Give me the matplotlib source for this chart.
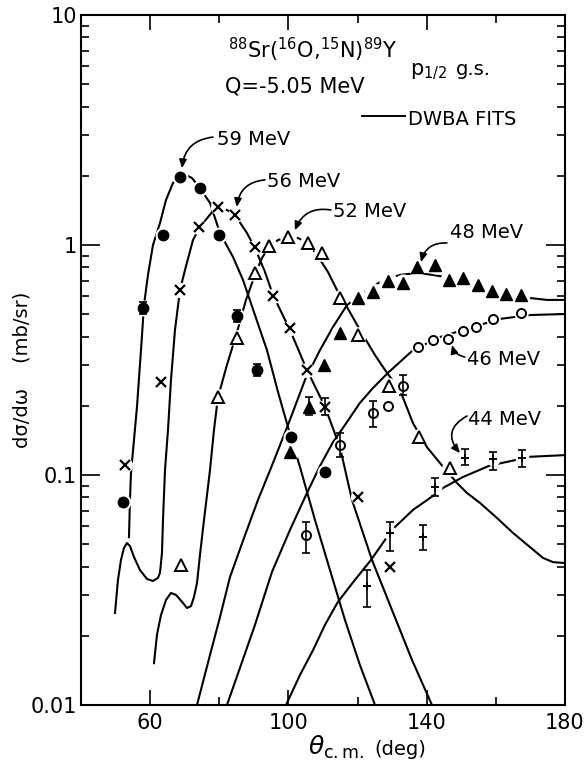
import numpy as np
import matplotlib.pyplot as plt

plt.rcParams['font.family'] = ['DejaVu Sans']
plt.rcParams['mathtext.fontset'] = 'dejavusans'

# measured points, theta_cm (deg) and dsigma/domega (mb/sr)
x59 = [52.1, 57.9, 63.7, 68.6, 74.4, 79.9, 85.1, 90.9, 100.7, 110.6]
y59 = [0.076, 0.53, 1.1, 1.98, 1.77, 1.1, 0.49, 0.286, 0.146, 0.103]
x56 = [52.7, 63.1, 68.6, 74.1, 79.6, 84.5, 90.3, 95.5, 100.5, 105.4, 110.6, 120.1, 129.4]
y56 = [0.11, 0.254, 0.64, 1.2, 1.46, 1.35, 0.98, 0.60, 0.436, 0.286, 0.198, 0.080, 0.040]
x52 = [68.9, 79.6, 85.1, 90.3, 94.4, 99.9, 105.7, 109.7, 114.9, 120.1, 129.1, 137.8, 146.7]
y52 = [0.0406, 0.218, 0.394, 0.755, 0.99, 1.08, 1.02, 0.92, 0.59, 0.406, 0.244, 0.146, 0.107]
x48 = [100.5, 106.0, 110.4, 114.9, 120.1, 124.5, 128.8, 133.1, 137.2, 142.4, 146.5, 150.5,
       154.8, 158.9, 162.9, 167.3]
y48 = [0.126, 0.198, 0.30, 0.414, 0.589, 0.625, 0.70, 0.684, 0.80, 0.818, 0.705, 0.719,
       0.67, 0.63, 0.612, 0.606]
x46 = [105.1, 114.9, 124.5, 128.8, 133.1, 137.5, 141.8, 146.2, 150.5, 154.3, 159.2, 167.3]
y46 = [0.0548, 0.135, 0.186, 0.20, 0.244, 0.36, 0.386, 0.39, 0.423, 0.44, 0.477, 0.506]
x44 = [122.7, 129.4, 138.9, 142.4, 151.1, 159.2, 167.6]
y44 = [0.033, 0.056, 0.054, 0.0887, 0.1186, 0.117, 0.1186]

# error bars (angle, low, high)
bar_x = [52.1, 57.9, 85.1, 90.9, 110.6, 106.0, 105.1, 114.9, 124.5, 133.1,
         122.7, 129.4, 138.9, 142.4, 151.1, 159.2, 167.6]
bar_lo = [0.073, 0.50, 0.461, 0.269, 0.182, 0.182, 0.0458, 0.12, 0.162, 0.223,
          0.0267, 0.0467, 0.0472, 0.081, 0.110, 0.105, 0.108]
bar_hi = [0.079, 0.563, 0.52, 0.304, 0.216, 0.218, 0.0625, 0.152, 0.21, 0.272,
          0.0386, 0.0625, 0.0606, 0.097, 0.130, 0.126, 0.128]

# DWBA fits
c59_x = [53.88, 54.17, 54.46, 55.33, 56.20, 57.56, 58.22, 59.38, 60.83, 62.85, 64.59, 66.61,
         68.64, 70.37, 72.11, 74.42, 77.32, 80.21, 83.97, 86.86, 90.33, 93.80, 96.99, 99.88,
         103.35, 107.69, 112.03, 116.37, 120.70, 125.05]
c59_y = [0.0537, 0.0779, 0.102, 0.142, 0.198, 0.386, 0.548, 0.741, 1.0, 1.246, 1.570, 1.860,
         1.975, 2.015, 1.955, 1.769, 1.523, 1.127, 0.887, 0.705, 0.496, 0.349, 0.2296, 0.1617,
         0.1083, 0.0637, 0.0386, 0.0234, 0.0149, 0.01]
c56_x = [49.84, 50.70, 51.57, 52.44, 53.31, 54.17, 55.33, 57.07, 59.09, 60.83, 62.27, 62.85,
         63.43, 63.72, 64.30, 65.17, 66.03, 67.19, 68.64, 70.08, 72.40, 74.42, 79.34, 82.23,
         84.55, 88.02, 90.33, 93.23, 95.54, 100.46, 105.37, 110.58, 114.92, 118.39, 124.18,
         129.96, 135.75, 141.53]
c56_y = [0.0251, 0.0350, 0.0427, 0.0482, 0.0506, 0.0491, 0.0440, 0.0386, 0.0353, 0.0346,
         0.0357, 0.0375, 0.0458, 0.0637, 0.105, 0.157, 0.259, 0.427, 0.637, 0.778, 1.051,
         1.197, 1.478, 1.419, 1.350, 1.127, 0.970, 0.763, 0.606, 0.427, 0.286, 0.198, 0.132,
         0.0779, 0.0427, 0.0259, 0.0157, 0.01]
c52_x = [61.12, 61.98, 63.14, 64.59, 66.03, 67.48, 69.22, 70.66, 71.82, 72.69, 73.56, 74.42,
         75.58, 77.32, 78.47, 79.63, 82.23, 85.13, 87.73, 90.33, 92.36, 94.38, 96.99, 99.88,
         102.77, 105.66, 108.27, 111.45, 114.05, 116.95, 120.71, 125.05, 128.52, 132.28,
         136.04, 140.09, 144.43, 148.76, 151.66, 155.42, 160.34, 164.96, 169.88, 173.64,
         176.53, 180.0]
c52_y = [0.0152, 0.0202, 0.0246, 0.0286, 0.0307, 0.0301, 0.0281, 0.0264, 0.0269, 0.0295,
         0.0339, 0.0449, 0.0637, 0.105, 0.157, 0.218, 0.301, 0.418, 0.577, 0.741, 0.878,
         0.980, 1.051, 1.083, 1.072, 1.020, 0.905, 0.763, 0.637, 0.537, 0.427, 0.332, 0.278,
         0.234, 0.168, 0.132, 0.110, 0.0923, 0.0835, 0.0756, 0.0650, 0.0560, 0.0486, 0.0436,
         0.0418, 0.0414]
c48_x = [73.56, 77.32, 80.21, 83.10, 87.15, 91.20, 95.25, 99.88, 104.80, 109.13, 112.90,
         116.95, 121.57, 126.49, 132.28, 137.19, 141.82, 146.74, 152.52, 158.31, 164.09,
         169.88, 174.80, 180.0]
c48_y = [0.01, 0.0165, 0.0241, 0.0360, 0.0532, 0.0779, 0.110, 0.165, 0.259, 0.349, 0.440,
         0.548, 0.618, 0.690, 0.741, 0.756, 0.741, 0.719, 0.684, 0.637, 0.606, 0.588, 0.577,
         0.577]
c46_x = [82.23, 85.99, 90.33, 95.25, 100.46, 105.37, 109.13, 112.90, 116.37, 120.71, 124.47,
         128.80, 136.04, 143.85, 152.52, 161.20, 169.88, 180.0]
c46_y = [0.01, 0.0145, 0.0223, 0.0379, 0.0577, 0.0835, 0.1094, 0.139, 0.165, 0.206, 0.239,
         0.278, 0.349, 0.398, 0.436, 0.477, 0.496, 0.501]
c44_x = [99.30, 103.35, 107.11, 110.58, 114.34, 119.26, 123.89, 127.94, 130.83, 136.04,
         140.95, 144.71, 150.50, 158.31, 163.23, 169.88, 180.0]
c44_y = [0.01, 0.0135, 0.0173, 0.0223, 0.0281, 0.0350, 0.0427, 0.0522, 0.0594, 0.0705,
         0.0794, 0.0878, 0.098, 0.110, 0.114, 0.120, 0.122]

fig = plt.figure(figsize=(5.86, 7.73), dpi=100)
ax = fig.add_axes([0.1382, 0.0880, 0.8259, 0.8926])

for cx, cy in [(c59_x, c59_y), (c56_x, c56_y), (c52_x, c52_y),
               (c48_x, c48_y), (c46_x, c46_y), (c44_x, c44_y)]:
    ax.plot(cx, cy, color='black', lw=1.5, zorder=2)

series = [
    (x59, y59, dict(marker='o', ms=7.5, mfc='black', mec='black')),
    (x56, y56, dict(marker='x', ms=7, mec='black', mew=1.6)),
    (x52, y52, dict(marker='^', ms=8, mfc='white', mec='black', mew=1.4)),
    (x48, y48, dict(marker='^', ms=9, mfc='black', mec='black')),
    (x46, y46, dict(marker='o', ms=6.5, mfc='white', mec='black', mew=1.4)),
    (x44, y44, dict(marker='+', ms=6, mec='black', mew=1.4)),
]
for sx, sy, st in series:
    # white halo gives the little gaps the drafted curves have around points
    ax.plot(sx, sy, ls='none', marker='o', ms=st['ms'] + 3, mfc='white', mec='white', zorder=3)
    ax.plot(sx, sy, ls='none', zorder=4, **st)

bar_mid = np.sqrt(np.array(bar_lo) * np.array(bar_hi))
ax.errorbar(bar_x, bar_mid, yerr=[bar_mid - np.array(bar_lo), np.array(bar_hi) - bar_mid],
            fmt='none', ecolor='black', elinewidth=1.2, capsize=3, capthick=1.2, zorder=5)

ax.set_yscale('log')
ax.set_xlim(40, 180)
ax.set_ylim(0.01, 10)
ax.set_xticks([60, 100, 140, 180])
ax.set_xticklabels(['60', '100', '140', '180'])
ax.set_xticks([80, 120, 160], minor=True)
ax.set_yticks([0.01, 0.1, 1, 10])
ax.set_yticklabels(['0.01', '0.1', '1', '10'])
ax.set_yticks([m * 10.0 ** e for e in (-2, -1, 0) for m in range(2, 10)], minor=True)
ax.yaxis.set_minor_formatter(plt.NullFormatter())
ax.tick_params(axis='both', which='both', direction='in', top=True, right=True,
               width=1.2, labelsize=15)
ax.tick_params(axis='y', which='major', length=14, pad=3)
ax.tick_params(axis='x', which='major', length=11, pad=6)
ax.tick_params(axis='both', which='minor', length=6)
for s in ax.spines.values():
    s.set_linewidth(1.5)

tr = ax.transAxes
ax.text(0.304, 0.938, r'$^{88}$Sr($^{16}$O,$^{15}$N)$^{89}$Y', transform=tr, fontsize=15,
        va='baseline')
ax.text(0.68, 0.913, r'p$_{1/2}$', transform=tr, fontsize=15, va='baseline')
ax.text(0.775, 0.913, 'g.s.', transform=tr, fontsize=14, va='baseline')
ax.text(0.298, 0.887, 'Q=-5.05 MeV', transform=tr, fontsize=15, va='baseline')
ax.plot([0.581, 0.669], [0.854, 0.854], transform=tr, color='black', lw=1.4)
ax.text(0.676, 0.8406, 'DWBA FITS', transform=tr, fontsize=14, va='baseline')

labels = [
    ('59 MeV', 0.281, 0.8116, (0.2727, 0.823), (0.2087, 0.778), 0.4),
    ('56 MeV', 0.384, 0.7507, (0.380, 0.761), (0.322, 0.7217), 0.4),
    ('52 MeV', 0.521, 0.707, (0.5165, 0.7174), (0.442, 0.688), 0.4),
    ('48 MeV', 0.762, 0.6768, (0.756, 0.6696), (0.7025, 0.642), 0.4),
    ('46 MeV', 0.7975, 0.4928, (0.793, 0.5043), (0.7665, 0.5217), -0.3),
    ('44 MeV', 0.80, 0.4058, (0.7975, 0.4188), (0.783, 0.365), 0.6),
]
for txt, lx, ly, start, tip, rad in labels:
    ax.text(lx, ly, txt, transform=tr, fontsize=14, va='baseline')
    ax.annotate('', xy=tip, xytext=start, xycoords='axes fraction',
                textcoords='axes fraction',
                arrowprops=dict(arrowstyle='-|>,head_length=0.5,head_width=0.22',
                                connectionstyle='arc3,rad=%s' % rad, color='black',
                                lw=1.2, shrinkA=0, shrinkB=0))

ax.text(-0.122, 0.4855, 'dσ/dω    (mb/sr)', transform=tr, rotation=90, fontsize=14,
        ha='center', va='center')
ax.text(0.469, -0.0725, r'$\theta_{\mathrm{c.m.}}$', transform=tr, fontsize=18, va='baseline')
ax.text(0.607, -0.0725, '(deg)', transform=tr, fontsize=14, va='baseline')

fig.savefig('out.png', dpi=100)
